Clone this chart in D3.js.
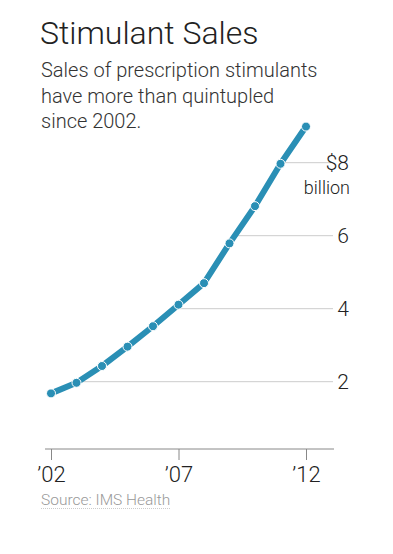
<!DOCTYPE html>
<html>
<head>
<meta charset="utf-8">
<script src="https://cdn.jsdelivr.net/npm/d3@7"></script>
<style>
  body { margin: 0; background: #fff; }
  svg { display: block; font-family: Roboto, "Liberation Sans", sans-serif; }
</style>
</head>
<body>
<div id="chart"></div>
<script>
const width = 393;
const height = 554;

// Data
const years = [2002, 2003, 2004, 2005, 2006, 2007, 2008, 2009, 2010, 2011, 2012];
const sales = [1.68, 1.97, 2.43, 2.96, 3.52, 4.11, 4.70, 5.79, 6.81, 7.97, 8.99];
const yTicks = [2, 4, 6, 8];
const xTicks = [2002, 2007, 2012];
const subtitleLines = ["Sales of prescription stimulants", "have more than quintupled", "since 2002."];

const x = d3.scaleLinear().domain([2002, 2012]).range([51, 306]);
const y = d3.scaleLinear().domain([0, 8]).range([454.7, 162.7]);
const axisY = 449;

const svg = d3.select("#chart")
    .append("svg")
    .attr("width", width)
    .attr("height", height);

// Title
svg.append("text")
    .attr("x", 40)
    .attr("y", 44)
    .attr("font-size", 32)
    .attr("font-weight", 300)
    .attr("fill", "#222")
    .text("Stimulant Sales");

svg.append("g")
    .selectAll("text")
    .data(subtitleLines)
    .join("text")
    .attr("x", 41)
    .attr("y", (d, i) => 77 + i * 25.5)
    .attr("font-size", 20)
    .attr("font-weight", 300)
    .attr("fill", "#333")
    .text(d => d);

// where the line crosses a value, so gridlines start there
function crossX(v) {
    for (let i = 1; i < sales.length; i++) {
        if (sales[i] >= v) {
            const t = (v - sales[i - 1]) / (sales[i] - sales[i - 1]);
            return x(years[i - 1] + t * (years[i] - years[i - 1]));
        }
    }
    return x(years[years.length - 1]);
}

// Gridlines
svg.append("g")
    .selectAll("line")
    .data(yTicks)
    .join("line")
    .attr("x1", d => crossX(d))
    .attr("x2", 333)
    .attr("y1", d => y(d))
    .attr("y2", d => y(d))
    .attr("stroke", "#ccc")
    .attr("stroke-width", 1);

// Y labels
svg.append("g")
    .selectAll("text")
    .data(yTicks)
    .join("text")
    .attr("x", 349)
    .attr("y", d => y(d))
    .attr("dy", "0.35em")
    .attr("text-anchor", "end")
    .attr("font-size", 21)
    .attr("font-weight", 300)
    .attr("fill", "#222")
    .text(d => d === 8 ? "$8" : d);

svg.append("text")
    .attr("x", 350)
    .attr("y", y(8) + 31)
    .attr("text-anchor", "end")
    .attr("font-size", 18)
    .attr("font-weight", 300)
    .attr("fill", "#222")
    .text("billion");

// X axis
const xAxis = d3.axisBottom(x)
    .tickValues(xTicks)
    .tickSize(11)
    .tickPadding(6)
    .tickFormat(d => "\u2019" + String(d).slice(2));

const gx = svg.append("g")
    .attr("transform", `translate(0,${axisY})`)
    .call(xAxis);
gx.select(".domain").remove();
gx.append("line")
    .attr("x1", 45)
    .attr("x2", 334)
    .attr("stroke", "#888");
gx.selectAll(".tick line").attr("stroke", "#888");
gx.selectAll(".tick text")
    .attr("font-family", "Roboto, sans-serif")
    .attr("font-size", 22)
    .attr("font-weight", 300)
    .attr("fill", "#222");

// Line
const line = d3.line()
    .x((d, i) => x(years[i]))
    .y(d => y(d));

svg.append("path")
    .datum(sales)
    .attr("d", line)
    .attr("fill", "none")
    .attr("stroke", "#2a8fb5")
    .attr("stroke-width", 6)
    .attr("stroke-linejoin", "round");

svg.append("g")
    .selectAll("circle")
    .data(sales)
    .join("circle")
    .attr("cx", (d, i) => x(years[i]))
    .attr("cy", d => y(d))
    .attr("r", 4.5)
    .attr("fill", "#2a8fb5")
    .attr("stroke", "#fff")
    .attr("stroke-width", 1);

// Source
const src = svg.append("text")
    .attr("x", 41)
    .attr("y", 505)
    .attr("font-size", 15.5)
    .attr("font-weight", 300)
    .attr("fill", "#999")
    .text("Source: IMS Health");
const srcW = src.node().getComputedTextLength();
svg.append("line")
    .attr("x1", 41)
    .attr("x2", 41 + srcW)
    .attr("y1", 508.5)
    .attr("y2", 508.5)
    .attr("stroke", "#ccc")
    .attr("stroke-dasharray", "1,1");
</script>
</body>
</html>
